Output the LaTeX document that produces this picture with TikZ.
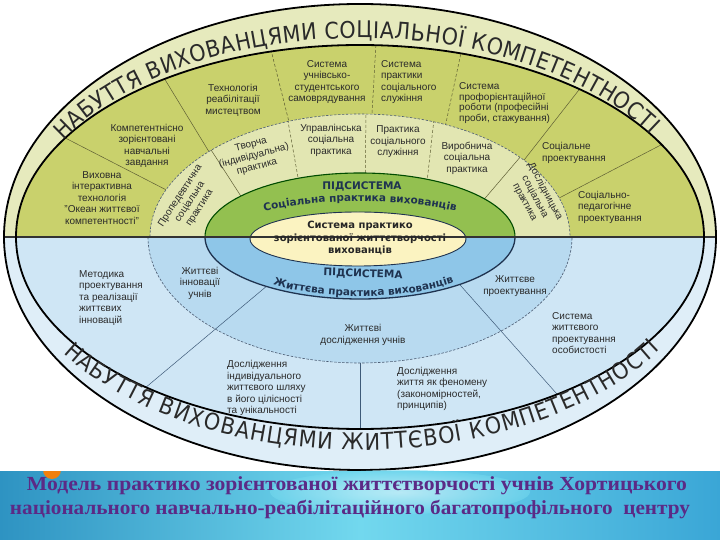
\documentclass[tikz,border=0pt]{standalone}
\usepackage{fontspec}
\setmainfont{Liberation Sans}
\newfontfamily\dejavu{DejaVu Sans}
\newfontfamily\bandfont[FakeStretch=0.9]{DejaVu Sans}
\newfontfamily\serifttl{Liberation Serif}
\usetikzlibrary{decorations.text}
\definecolor{bandG}{HTML}{E6EABD}
\definecolor{zoneG}{HTML}{C9D16C}
\definecolor{ringG}{HTML}{E2E6B2}
\definecolor{innerG}{HTML}{93C050}
\definecolor{bandB}{HTML}{DFEEF8}
\definecolor{zoneB}{HTML}{CFE6F5}
\definecolor{ringB}{HTML}{B8DAF0}
\definecolor{innerB}{HTML}{8EC6E8}
\definecolor{coreY}{HTML}{FBF3C1}
\definecolor{navy}{HTML}{1F3350}
\definecolor{txt}{HTML}{2A2A2A}
\definecolor{ttl}{HTML}{5B2A86}
\definecolor{divG}{HTML}{5E5E34}
\definecolor{divB}{HTML}{3E5A78}
\definecolor{bnL}{HTML}{2E93C2}
\definecolor{bnM}{HTML}{72D8EE}
\definecolor{bnR}{HTML}{3AA6D6}
\newcommand\UpHalf[2]{({360-#1},303) arc[start angle=180,end angle=0,x radius=#1,y radius=#2] -- cycle}
\newcommand\LowHalf[2]{({360-#1},303) arc[start angle=180,end angle=360,x radius=#1,y radius=#2] -- cycle}
\begin{document}
\begin{tikzpicture}[x=1pt,y=1pt,
  lbl/.style={font=\fontsize{10}{11.5}\selectfont, text=txt, align=center, inner sep=0pt},
  lbll/.style={lbl, align=left, anchor=west},
  divg/.style={draw=divG, line width=0.5pt},
  divb/.style={draw=divB, line width=0.5pt},
  ringline/.style={draw=navy!80, line width=0.6pt, dash pattern=on 2.5pt off 1.5pt},
  heavy/.style={draw=black, line width=1.8pt},
  bold/.style={font=\dejavu\bfseries\fontsize{10.5}{12.5}\selectfont, text=navy, inner sep=0pt, align=center}]
\useasboundingbox (0,0) rectangle (720,540);
\fill[white] (0,0) rectangle (720,540);
% band
\fill[bandG] \UpHalf{356}{233};
\fill[bandB] \LowHalf{356}{233};
% outer zones
\fill[zoneG] \UpHalf{344}{192};
\fill[zoneB] \LowHalf{344}{192};
\begin{scope}
\clip \UpHalf{344}{192};
\draw[divg] (40,415) -- (180,343);
\draw[divg] (150,485) -- (225,362);
\draw[divg,densely dashed] (266,510) -- (296,390);
\draw[divg,densely dashed] (377,515) -- (370,390);
\draw[divg,densely dashed] (467,515) -- (438,380);
\draw[divg] (600,477) -- (485,330);
\draw[divg] (680,405) -- (540,332);
\end{scope}
\begin{scope}
\clip \LowHalf{344}{192};
\draw[divb] (360,240) -- (360,100);
\end{scope}
% middle ring
\fill[ringG] \UpHalf{210}{123};
\fill[ringB] \LowHalf{212}{126};
\draw[ringline] (150,303) arc[start angle=180,end angle=0,x radius=210,y radius=123];
\draw[ringline] (148,303) arc[start angle=180,end angle=360,x radius=212,y radius=126];
\begin{scope}
\clip \UpHalf{210}{123};
\draw[divg] (195,415) -- (255,322);
\draw[divg,densely dashed] (286,430) -- (302,340);
\draw[divg,densely dashed] (366,430) -- (365,340);
\draw[divg,densely dashed] (435,430) -- (425,340);
\draw[divg] (545,412) -- (475,330);
\end{scope}
\begin{scope}
\clip \LowHalf{344}{192};
\draw[divb] (280,265) -- (120,131);
\draw[divb] (445,272) -- (580,120);
\end{scope}
% inner ellipse
\fill[innerG] \UpHalf{155}{64};
\fill[innerB] \LowHalf{155}{62};
\draw[draw=green!30!black, line width=1.1pt] (205,303) arc[start angle=180,end angle=0,x radius=155,y radius=64];
\draw[draw=navy, line width=1.3pt] (205,303) arc[start angle=180,end angle=360,x radius=155,y radius=62];
% core
\draw[fill=coreY, draw=navy, line width=0.9pt] (358,301) ellipse[x radius=108, y radius=27];
% outlines
\draw[draw=black!80, line width=1.2pt] (4,303) -- (716,303);
\draw[heavy] (360,303) ellipse[x radius=356, y radius=233];
\draw[heavy] (360,303) ellipse[x radius=344, y radius=192];
% band texts
\path[decorate, decoration={text along path, text align=fit to path,
  text={|\bandfont\fontsize{23}{23}\selectfont\color{txt}|НАБУТТЯ ВИХОВАНЦЯМИ СОЦІАЛЬНОЇ КОМПЕТЕНТНОСТІ}}]
  ([shift={(360,303)}]151:339 and 199) arc[start angle=151, end angle=31, x radius=339, y radius=199];
\path[decorate, decoration={text along path, text align=fit to path,
  text={|\bandfont\fontsize{23}{23}\selectfont\color{txt}|НАБУТТЯ ВИХОВАНЦЯМИ ЖИТТЄВОЇ КОМПЕТЕНТНОСТІ}}]
  ([shift={(360,303)}]213:354 and 213) arc[start angle=213, end angle=328, x radius=354, y radius=213];
% upper outer labels
\node[lbl] (t1) at (233,440) {Технологія\\реабілітації\\мистецтвом};
\node[lbl] (t2) at (147,394) {Компетентнісно\\зорієнтовані\\навчальні\\завдання};
\node[lbl] (t3) at (102,342) {Виховна\\інтерактивна\\технологія\\"Океан життєвої\\компетентності"};
\node[lbl] (t4) at (327,458) {Система\\учнівсько-\\студентського\\самоврядування};
\node[lbll] (t5) at (381,458) {Система\\практики\\соціального\\служіння};
\node[lbll, font=\fontsize{10}{10.5}\selectfont] (t6) at (459,437) {Система\\профорієнтаційної\\роботи (професійні\\проби, стажування)};
\node[lbll] (t7) at (542,387) {Соціальне\\проектування};
\node[lbll] (t8) at (578,333) {Соціально-\\педагогічне\\проектування};
% upper ring labels
\node[lbl, rotate=57] (r1) at (190,338) {Пропедевтична\\соціальна\\практика};
\node[lbl, rotate=15] (r2) at (254,384) {Творча\\(індивідуальна)\\практика};
\node[lbl] (r3) at (331,400) {Управлінська\\соціальна\\практика};
\node[lbl] (r4) at (398,398) {Практика\\соціального\\служіння};
\node[lbl] (r5) at (467,382) {Виробнича\\соціальна\\практика};
\node[lbl, rotate=-62] (r6) at (535,343) {Дослідницька\\соціальна\\практика};
% inner
\node[bold] (s1) at (362,354) {ПІДСИСТЕМА};
\path[decorate, decoration={text along path, text align=center,
  text={|\dejavu\bfseries\fontsize{10.5}{12}\selectfont\color{navy}|Соціальна практика вихованців}}]
  (247,323) .. controls (300,344) and (420,344) .. (473,323);
\node[bold, text=black!85, font=\dejavu\bfseries\fontsize{10}{12.3}\selectfont] (core) at (360,302) {Система практико\\зорієнтованої життєтворчості\\вихованців};
\node[bold, rotate=-2] (s2) at (363,266) {ПІДСИСТЕМА};
\path[decorate, decoration={text along path, text align=center,
  text={|\dejavu\bfseries\fontsize{10.5}{12}\selectfont\color{navy}|Життєва практика вихованців}}]
  (262,260) .. controls (310,238) and (415,238) .. (465,262);
% lower labels
\node[lbll] (b1) at (79,242) {Методика\\проектування\\та реалізації\\життєвих\\інновацій};
\node[lbl] (b2) at (200,257) {Життєві\\інновації\\учнів};
\node[lbl] (b3) at (515,254) {Життєве\\проектування};
\node[lbll] (b4) at (552,207) {Система\\життєвого\\проектування\\особистості};
\node[lbl] (b5) at (363,205) {Життєві\\дослідження учнів};
\node[lbll] (b6) at (227,152) {Дослідження\\індивідуального\\життєвого шляху\\в його цілісності\\та унікальності};
\node[lbll] (b7) at (397,151) {Дослідження\\життя як феномену\\(закономірностей,\\принципів)};
% banner
\shade[left color=bnL, right color=bnR, middle color=bnM] (0,0) rectangle (720,68);
\shade[inner color=white!85!bnM, outer color=bnM, opacity=0.6] (400,48) ellipse[x radius=130, y radius=22];
\begin{scope}
\clip (0,0) rectangle (720,68);
\fill[orange!80!brown] (52,70) circle[radius=9];
\end{scope}
\node[font=\serifttl\bfseries\fontsize{20}{24}\selectfont, text=ttl, inner sep=0pt] (ttl1) at (357,54) {\resizebox{660pt}{\height}{Модель практико зорієнтованої життєтворчості учнів Хортицького}};
\node[font=\serifttl\bfseries\fontsize{20}{24}\selectfont, text=ttl, inner sep=0pt] (ttl2) at (350,30) {\resizebox{680pt}{\height}{національного навчально-реабілітаційного багатопрофільного\ \ центру}};
\end{tikzpicture}
\end{document}
